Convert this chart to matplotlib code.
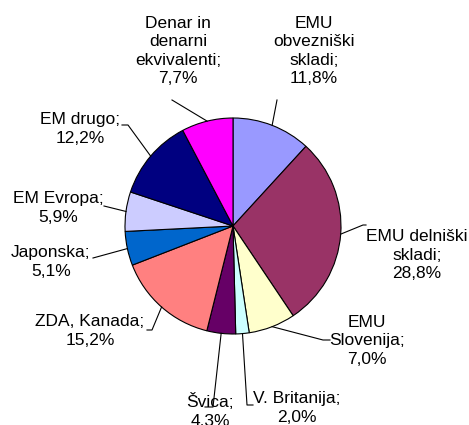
import numpy as np
import matplotlib.pyplot as plt

plt.rcParams['font.family'] = ['Liberation Sans', 'DejaVu Sans']

# Data
labels = ['EMU\nobvezniški\nskladi;', 'EMU delniški\nskladi;', 'EMU\nSlovenija;',
          'V. Britanija;', 'Švica;', 'ZDA, Kanada;', 'Japonska;', 'EM Evropa;',
          'EM drugo;', 'Denar in\ndenarni\nekvivalenti;']
shares = [11.8, 28.8, 7.0, 2.0, 4.3, 15.2, 5.1, 5.9, 12.2, 7.7]
colors = ['#9999FF', '#993366', '#FFFFCC', '#CCFFFF', '#660066',
          '#FF8080', '#0066CC', '#CCCCFF', '#000080', '#FF00FF']

W, H = 469, 425
fig = plt.figure(figsize=(W / 100, H / 100), dpi=100)
ax = fig.add_axes([0, 0, 1, 1])

cx, cy, r = 233, H - 226, 108
wedges, _ = ax.pie(shares, colors=colors, startangle=90, counterclock=False,
                   center=(cx, cy), radius=r,
                   wedgeprops=dict(edgecolor='black', linewidth=0.8))
ax.set_xlim(0, W)
ax.set_ylim(0, H)
ax.set_aspect('equal')
ax.axis('off')

# label placement (image pixel coords): text center, leader path points after the wedge edge
label_pos = [(314, 51), (417, 255), (367, 341), (297, 408), (210, 411),
             (90, 331), (51, 262), (58, 208), (80, 129), (178, 51)]
leaders = [[(277, 100)], [(363, 225), (366, 225)], [(323, 340), (330, 340)],
           [(247, 405), (253, 405)], [(213, 407), (205, 407)],
           [(152, 330), (147, 330)], [(93, 258)], [(104, 206)],
           [(128, 125), (122, 125)], [(172, 100)]]

for w, lab, val, pos, path in zip(wedges, labels, shares, label_pos, leaders):
    ang = np.deg2rad((w.theta1 + w.theta2) / 2)
    x0, y0 = cx + r * np.cos(ang), cy + r * np.sin(ang)
    xs = [x0] + [p[0] for p in path]
    ys = [y0] + [H - p[1] for p in path]
    ax.plot(xs, ys, color='black', linewidth=0.8)
    txt = lab + '\n' + f'{val:.1f}%'.replace('.', ',')
    ax.text(pos[0], H - pos[1], txt, ha='center', va='center',
            fontsize=12.5, linespacing=1.3)

fig.savefig('out.png', dpi=100)
